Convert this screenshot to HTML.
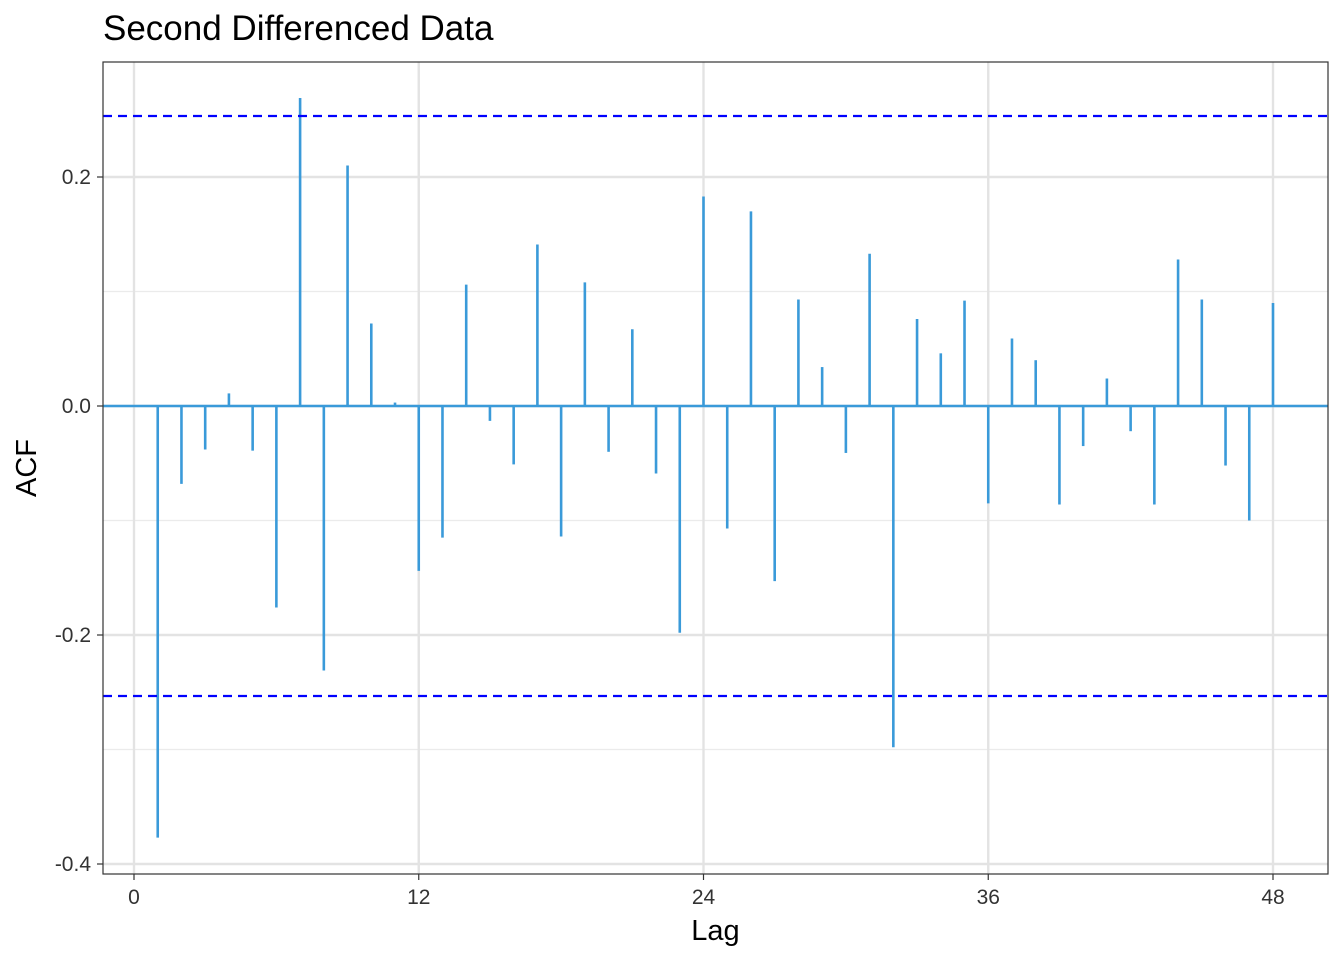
<!DOCTYPE html>
<html><head><meta charset="utf-8"><style>
body{margin:0;background:#fff;font-family:"Liberation Sans",Arial,sans-serif;}
</style></head><body>
<svg id="chart" width="1344" height="960" xmlns="http://www.w3.org/2000/svg" style="font-family:'Liberation Sans',Arial,sans-serif">
<text x="103" y="40" font-size="35" fill="#000">Second Differenced Data</text>
<g id="grid"></g>
<g id="bars"></g>
<rect x="103" y="62" width="1225" height="812" fill="none" stroke="#333" stroke-width="1.2"/>
<g id="axes"></g>
<text x="715.5" y="940" font-size="29" text-anchor="middle">Lag</text>
<text transform="translate(36,468) rotate(-90)" font-size="29" text-anchor="middle">ACF</text>
</svg>
<script>
const lags=[1,2,3,4,5,6,7,8,9,10,11,12,13,14,15,16,17,18,19,20,21,22,23,24,25,26,27,28,29,30,31,32,33,34,35,36,37,38,39,40,41,42,43,44,45,46,47,48];
const acf=[-0.377,-0.068,-0.038,0.011,-0.039,-0.176,0.269,-0.231,0.210,0.072,0.003,-0.144,-0.115,0.106,-0.013,-0.051,0.141,-0.114,0.108,-0.040,0.067,-0.059,-0.198,0.183,-0.107,0.170,-0.153,0.093,0.034,-0.041,0.133,-0.298,0.076,0.046,0.092,-0.085,0.059,0.040,-0.086,-0.035,0.024,-0.022,-0.086,0.128,0.093,-0.052,-0.100,0.090];
const ciBound=[0.2533];
const xTicks=[0,12,24,36,48];
const yTicks=[-0.4,-0.2,0.0,0.2];
const yTickLabels=["-0.4","-0.2","0.0","0.2"];
const yMinor=[-0.3,-0.1,0.1];
const L=103,R=1328,T=62,B=874;
const xs=v=>134+v*(1273-134)/48;
const ys=v=>406-v*1145;
const NS="http://www.w3.org/2000/svg";
function mk(parent,tag,attrs){const e=document.createElementNS(NS,tag);for(const k in attrs)e.setAttribute(k,attrs[k]);parent.appendChild(e);return e;}
const grid=document.getElementById('grid'),bars=document.getElementById('bars'),axes=document.getElementById('axes');
yMinor.forEach(v=>{const e=mk(grid,'line',{x1:L,x2:R,y1:ys(v),y2:ys(v),stroke:'#ebebeb','stroke-width':1.2});

});
xTicks.forEach(v=>{const e=mk(grid,'line',{x1:xs(v),x2:xs(v),y1:T,y2:B,stroke:'#e3e3e3','stroke-width':2.4});


const t=mk(axes,'line',{x1:xs(v),x2:xs(v),y1:B,y2:B+6,stroke:'#333','stroke-width':1.2});


const l=mk(axes,'text',{x:xs(v),y:B+30,'font-size':21,'text-anchor':'middle',fill:'#333'});l.textContent=v;

});
yTicks.forEach((v,i)=>{const e=mk(grid,'line',{x1:L,x2:R,y1:ys(v),y2:ys(v),stroke:'#e3e3e3','stroke-width':2.4});


const t=mk(axes,'line',{x1:L-6,x2:L,y1:ys(v),y2:ys(v),stroke:'#333','stroke-width':1.2});


const l=mk(axes,'text',{x:L-12,y:ys(v)+7,'font-size':21,'text-anchor':'end',fill:'#333'});l.textContent=yTickLabels[i];

});
const z=mk(bars,'line',{x1:L,x2:R,y1:ys(0),y2:ys(0),stroke:'#3a9ad9','stroke-width':2.4});


lags.forEach((lg,i)=>{const e=mk(bars,'line',{x1:xs(lg),x2:xs(lg),y1:ys(0),y2:ys(acf[i]),stroke:'#3a9ad9','stroke-width':2.6});

});
[ciBound[0],-ciBound[0]].forEach(v=>{const e=mk(bars,'line',{x1:L,x2:R,y1:ys(v),y2:ys(v),stroke:'#0000ff','stroke-width':2.2,'stroke-dasharray':'9,6'});

});
</script>
</body></html>
